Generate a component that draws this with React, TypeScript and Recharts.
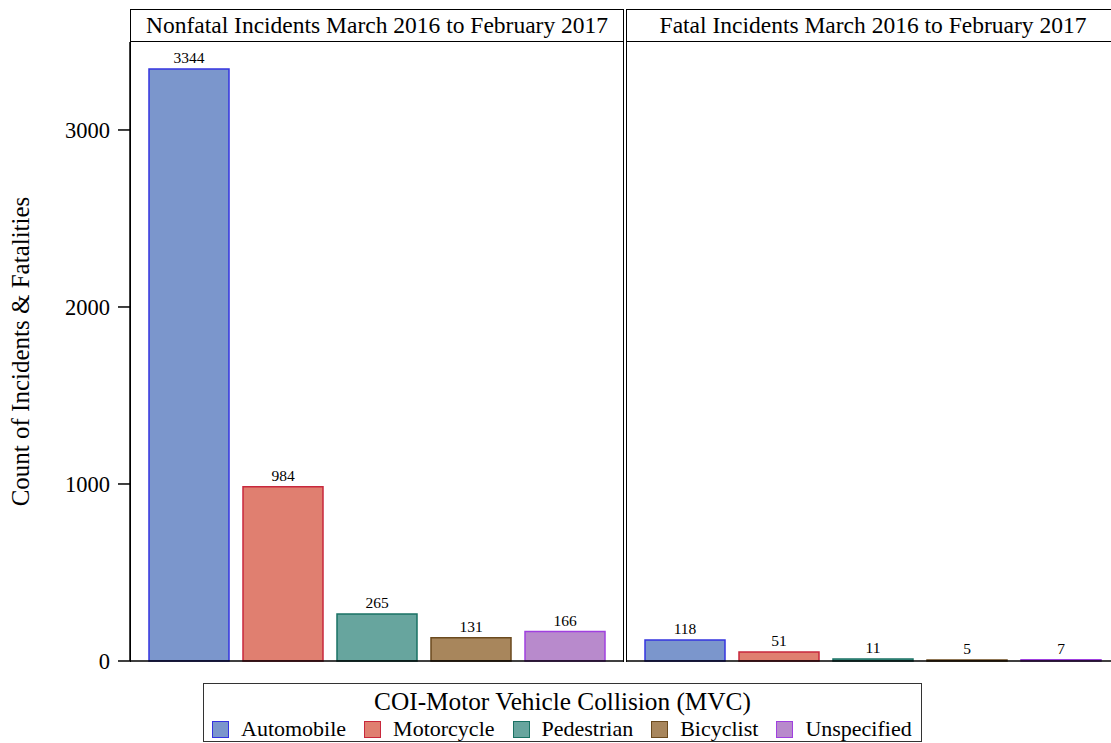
import { Bar, BarChart, Cell, LabelList, XAxis, YAxis } from "recharts";

const CATEGORIES = ["Automobile", "Motorcycle", "Pedestrian", "Bicyclist", "Unspecified"];
const NONFATAL = [3344, 984, 265, 131, 166];
const FATAL = [118, 51, 11, 5, 7];
const Y_TICKS = [0, 1000, 2000, 3000];
const Y_MAX = 3497;

const FILLS = ["#7b96cc", "#e07f70", "#67a59e", "#a8865c", "#b88acc"];
const STROKES = ["#3434e0", "#c8283c", "#1a7264", "#6b4a1e", "#a040e0"];

const FONT = "'Liberation Serif', 'Times New Roman', serif";

const nonfatalData = CATEGORIES.map((category, i) => ({ category, value: NONFATAL[i] }));
const fatalData = CATEGORIES.map((category, i) => ({ category, value: FATAL[i] }));

function AxisTitle({ viewBox }: { viewBox?: { x: number; y: number; width: number; height: number } }) {
  if (!viewBox) return null;
  const x = viewBox.x + 20;
  const y = viewBox.y + viewBox.height / 2;
  return (
    <text
      x={x}
      y={y}
      transform={`rotate(-90 ${x} ${y})`}
      textAnchor="middle"
      dominantBaseline="central"
      fontSize={25}
      fontFamily={FONT}
      fill="#000"
    >
      Count of Incidents &amp; Fatalities
    </text>
  );
}

function Panel({ data, showAxis }: { data: { category: string; value: number }[]; showAxis: boolean }) {
  return (
    <BarChart
      width={showAxis ? 625 : 494}
      height={640}
      data={data}
      margin={{ top: 0, right: showAxis ? 1 : 0, bottom: 20, left: 0 }}
      barCategoryGap={7}
      style={{ fontFamily: FONT }}
    >
      <XAxis
        dataKey="category"
        height={1}
        tick={false}
        tickLine={false}
        stroke="#000"
        strokeWidth={1.5}
        padding={{ left: 12, right: 12 }}
      />
      <YAxis
        domain={[0, Y_MAX]}
        ticks={Y_TICKS}
        width={showAxis ? 130 : 0}
        stroke="#000"
        strokeWidth={1.5}
        tick={showAxis ? { fontSize: 22.5, fill: "#000", fontFamily: FONT } : false}
        tickLine={showAxis}
        tickSize={12}
        tickMargin={8}
        label={showAxis ? { content: <AxisTitle /> } : undefined}
      />
      <Bar dataKey="value" isAnimationActive={false} strokeWidth={1.5}>
        {data.map((d, i) => (
          <Cell key={d.category} fill={FILLS[i]} stroke={STROKES[i]} />
        ))}
        <LabelList dataKey="value" position="top" offset={6} fontSize={15.5} fill="#000" fontFamily={FONT} />
      </Bar>
    </BarChart>
  );
}

const headerStyle = {
  position: "absolute" as const,
  top: 9,
  height: 33,
  width: 494,
  boxSizing: "border-box" as const,
  border: "1.5px solid #000",
  fontSize: 23.5,
  lineHeight: "30px",
  textAlign: "center" as const,
  whiteSpace: "nowrap" as const,
};

const frameStyle = {
  position: "absolute" as const,
  top: 41,
  height: 621,
  width: 494,
  boxSizing: "border-box" as const,
  borderLeft: "1.5px solid #000",
  borderRight: "1.5px solid #000",
  pointerEvents: "none" as const,
};

export default function App() {
  return (
    <div
      style={{
        position: "absolute",
        left: 0,
        top: 0,
        width: 1111,
        height: 743,
        overflow: "hidden",
        background: "#fff",
        fontFamily: FONT,
        color: "#000",
      }}
    >
      <div style={{ ...headerStyle, left: 130 }}>Nonfatal Incidents March 2016 to February 2017</div>
      <div style={{ ...headerStyle, left: 626 }}>Fatal Incidents March 2016 to February 2017</div>

      <div style={{ position: "absolute", left: 0, top: 42 }}>
        <Panel data={nonfatalData} showAxis />
      </div>
      <div style={{ position: "absolute", left: 626, top: 42 }}>
        <Panel data={fatalData} showAxis={false} />
      </div>

      {/* panel frames */}
      <div style={{ ...frameStyle, left: 129.5 }} />
      <div style={{ ...frameStyle, left: 625.5 }} />

      {/* legend */}
      <div
        style={{
          position: "absolute",
          left: 203,
          top: 683,
          width: 719,
          height: 59,
          boxSizing: "border-box",
          border: "1.5px solid #333",
        }}
      >
        <div style={{ textAlign: "center", fontSize: 25.3, lineHeight: "28px", marginTop: 3 }}>
          COI-Motor Vehicle Collision (MVC)
        </div>
        <div style={{ display: "flex", alignItems: "center", fontSize: 22, lineHeight: "24px", paddingLeft: 8, marginTop: 2 }}>
          {CATEGORIES.map((c, i) => (
            <div key={c} style={{ display: "flex", alignItems: "center", marginRight: 18 }}>
              <span
                style={{
                  display: "inline-block",
                  width: 15,
                  height: 15,
                  background: FILLS[i],
                  border: `1.5px solid ${STROKES[i]}`,
                  marginRight: 12,
                }}
              />
              <span>{c}</span>
            </div>
          ))}
        </div>
      </div>
    </div>
  );
}
